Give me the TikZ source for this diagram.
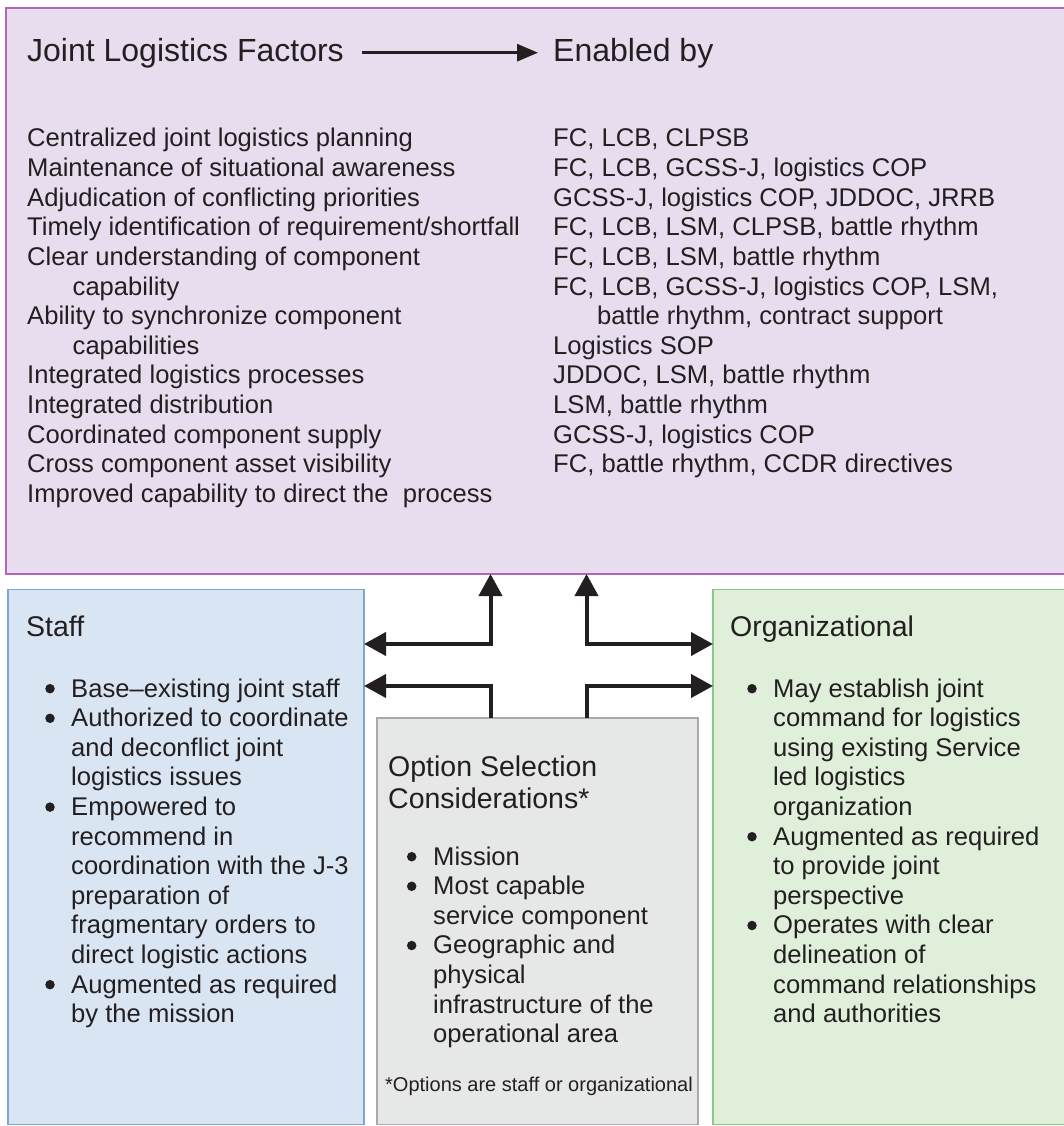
\documentclass[tikz,border=0pt]{standalone}
\usepackage{fontspec}
\setmainfont{Liberation Sans}
\usetikzlibrary{arrows.meta}

\definecolor{ink}{HTML}{231F20}
\definecolor{factfill}{HTML}{E8DDEF}
\definecolor{factdraw}{HTML}{B366B3}
\definecolor{stafffill}{HTML}{DAE5F3}
\definecolor{staffdraw}{HTML}{7BA6D8}
\definecolor{optfill}{HTML}{E6E7E7}
\definecolor{optdraw}{HTML}{A7A9AC}
\definecolor{orgfill}{HTML}{DFEFDA}
\definecolor{orgdraw}{HTML}{8CC985}

\tikzset{
  panel/.style={draw, line width=1.4pt, inner sep=0pt, outer sep=0pt},
  txt/.style={anchor=base west, inner sep=0pt, text=ink,
              font=\fontsize{25.6}{29.6}\selectfont},
  headtxt/.style={anchor=base west, inner sep=0pt, text=ink,
              font=\fontsize{28.5}{31.3}\selectfont},
  titletxt/.style={anchor=base west, inner sep=0pt, text=ink,
              font=\fontsize{32}{36}\selectfont},
  notetxt/.style={anchor=base west, inner sep=0pt, text=ink,
              font=\fontsize{20}{24}\selectfont},
  dot/.style={circle, fill=ink, inner sep=0pt, minimum size=9.5pt},
  bigarrow/.style={draw=ink, line width=4pt, line join=miter,
              arrows={-Triangle[length=22pt,width=23pt]}},
  bigboth/.style={bigarrow, arrows={Triangle[length=22pt,width=23pt]-Triangle[length=22pt,width=23pt]}},
  titlearrow/.style={draw=ink, line width=3pt,
              arrows={-Triangle[length=21pt,width=17pt]}}
}

\begin{document}
\begin{tikzpicture}[x=1pt,y=-1pt]
\useasboundingbox[fill=white] (0,0) rectangle (1063,1126);

% panels
\node[panel, draw=factdraw, fill=factfill, minimum width=1064pt, minimum height=566pt] (facts) at (538,291) {};
\node[panel, draw=staffdraw, fill=stafffill, minimum width=356pt, minimum height=535pt] (staff) at (186,857) {};
\node[panel, draw=optdraw, fill=optfill, minimum width=321pt, minimum height=406.5pt] (opt) at (537.5,921.25) {};
\node[panel, draw=orgdraw, fill=orgfill, minimum width=357pt, minimum height=535pt] (org) at (891.5,857) {};

% header row of the factors panel
\node[titletxt] (ttl) at (27,61.7) {Joint Logistics Factors};
\node[titletxt] (enb) at (553,61.7) {Enabled by};
\draw[titlearrow] ([xshift=18pt,yshift=9pt]ttl.base east) -- ([xshift=-15pt,yshift=9pt]enb.base west);

% factor column
\foreach \dx/\txt [count=\i from 0] in {
  0/{Centralized joint logistics planning},
  0/{Maintenance of situational awareness},
  0/{Adjudication of conflicting priorities},
  0/{Timely identification of requirement/shortfall},
  0/{Clear understanding of component},
  45.5/{capability},
  0/{Ability to synchronize component},
  45.5/{capabilities},
  0/{Integrated logistics processes},
  0/{Integrated distribution},
  0/{Coordinated component supply},
  0/{Cross component asset visibility},
  0/{Improved capability to direct the\ \ process}}
  \node[txt] (fac\i) at ({27+\dx},{147+29.6*\i}) {\txt};

% enabler column
\foreach \dx/\txt [count=\i from 0] in {
  0/{FC, LCB, CLPSB},
  0/{FC, LCB, GCSS-J, logistics COP},
  0/{GCSS-J, logistics COP, JDDOC, JRRB},
  0/{FC, LCB, LSM, CLPSB, battle rhythm},
  0/{FC, LCB, LSM, battle rhythm},
  0/{FC, LCB, GCSS-J, logistics COP, LSM,},
  44/{battle rhythm, contract support},
  0/{Logistics SOP},
  0/{JDDOC, LSM, battle rhythm},
  0/{LSM, battle rhythm},
  0/{GCSS-J, logistics COP},
  0/{FC, battle rhythm, CCDR directives}}
  \node[txt] (enb\i) at ({553+\dx},{147+29.6*\i}) {\txt};

% staff panel
\node[headtxt] (staffhead) at (26,636.7) {Staff};
\foreach \b/\txt [count=\i from 0] in {
  1/{Base–existing joint staff},
  1/{Authorized to coordinate},
  0/{and deconflict joint},
  0/{logistics issues},
  1/{Empowered to},
  0/{recommend in},
  0/{coordination with the J-3},
  0/{preparation of},
  0/{fragmentary orders to},
  0/{direct logistic actions},
  1/{Augmented as required},
  0/{by the mission}}
  {
  \node[txt] (st\i) at (71,{697+29.6*\i}) {\txt};
  \ifnum\b=1 \node[dot] (stb\i) at (50,{697-8.3+29.6*\i}) {};\fi
  }

% organizational panel
\node[headtxt] (orghead) at (730,636.7) {Organizational};
\foreach \b/\txt [count=\i from 0] in {
  1/{May establish joint},
  0/{command for logistics},
  0/{using existing Service},
  0/{led logistics},
  0/{organization},
  1/{Augmented as required},
  0/{to provide joint},
  0/{perspective},
  1/{Operates with clear},
  0/{delineation of},
  0/{command relationships},
  0/{and authorities}}
  {
  \node[txt] (og\i) at (773,{697+29.6*\i}) {\txt};
  \ifnum\b=1 \node[dot] (ogb\i) at (752,{697-8.3+29.6*\i}) {};\fi
  }

% option selection panel
\node[headtxt] (opthead1) at (388,776.7) {Option Selection};
\node[headtxt] (opthead2) at (388,808) {Considerations*};
\foreach \b/\txt [count=\i from 0] in {
  1/{Mission},
  1/{Most capable},
  0/{service component},
  1/{Geographic and},
  0/{physical},
  0/{infrastructure of the},
  0/{operational area}}
  {
  \node[txt] (op\i) at (433,{865+29.6*\i}) {\txt};
  \ifnum\b=1 \node[dot] (opb\i) at (411.7,{865-8.3+29.6*\i}) {};\fi
  }
\node[notetxt] (optnote) at (385,1091.7) {*Options are staff or organizational};

% connectors between the panels
\coordinate (rowA) at (0,644);
\coordinate (rowB) at (0,686);
\coordinate (colL) at (490.5,0);
\coordinate (colR) at (586.5,0);
\draw[bigboth] (staff.east |- rowA) -| (facts.south -| colL);
\draw[bigarrow] (opt.north -| colL) |- (staff.east |- rowB);
\draw[bigboth] (facts.south -| colR) |- (org.west |- rowA);
\draw[bigarrow] (opt.north -| colR) |- (org.west |- rowB);
\end{tikzpicture}
\end{document}
